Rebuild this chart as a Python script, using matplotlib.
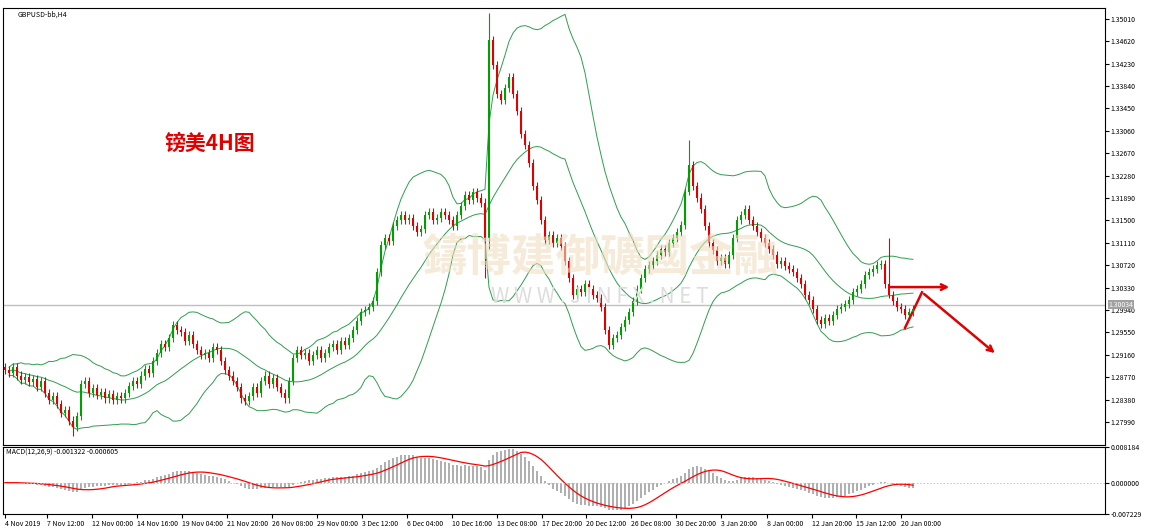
import matplotlib.pyplot as plt
import numpy as np
import pandas as pd

plt.rcParams['font.family'] = ['Noto Sans CJK SC', 'DejaVu Sans']

# H4 closes
closes = [
    1.2890, 1.2885, 1.2895, 1.2880, 1.2872, 1.2878, 1.2868, 1.2874, 1.2860, 1.2870,
    1.2850, 1.2837, 1.2845, 1.2830, 1.2815, 1.2820, 1.2800, 1.2790, 1.2810, 1.2865,
    1.2870, 1.2850, 1.2858, 1.2846, 1.2852, 1.2840, 1.2848, 1.2838, 1.2845, 1.2840,
    1.2850, 1.2862, 1.2870, 1.2865, 1.2880, 1.2892, 1.2885, 1.2905, 1.2920, 1.2935,
    1.2930, 1.2945, 1.2968, 1.2960, 1.2955, 1.2940, 1.2950, 1.2935, 1.2925, 1.2915,
    1.2920, 1.2910, 1.2930, 1.2925, 1.2905, 1.2890, 1.2880, 1.2870, 1.2860, 1.2840,
    1.2835, 1.2845, 1.2860, 1.2850, 1.2870, 1.2880, 1.2865, 1.2875, 1.2860, 1.2850,
    1.2840, 1.2870, 1.2910, 1.2925, 1.2915, 1.2920, 1.2905, 1.2915, 1.2925, 1.2910,
    1.2920, 1.2930, 1.2935, 1.2925, 1.2940, 1.2933, 1.2945, 1.2960, 1.2975, 1.2990,
    1.2994, 1.3000, 1.3010, 1.3060, 1.3107, 1.3120, 1.3115, 1.3140, 1.3150, 1.3160,
    1.3150, 1.3155, 1.3140, 1.3130, 1.3135, 1.3160, 1.3165, 1.3150, 1.3155, 1.3165,
    1.3160, 1.3150, 1.3140, 1.3160, 1.3175, 1.3194, 1.3185, 1.3200, 1.3190, 1.3180,
    1.3120, 1.3464, 1.3420, 1.3370, 1.3360, 1.3380, 1.3400, 1.3370, 1.3340, 1.3300,
    1.3282, 1.3250, 1.3210, 1.3186, 1.3150, 1.3116, 1.3125, 1.3110, 1.3120, 1.3105,
    1.3080, 1.3050, 1.3020, 1.3030, 1.3025, 1.3040, 1.3030, 1.3020, 1.3015, 1.3000,
    1.2960, 1.2933, 1.2945, 1.2950, 1.2965, 1.2977, 1.2990, 1.3010, 1.3030, 1.3050,
    1.3065, 1.3072, 1.3080, 1.3090, 1.3100, 1.3095, 1.3110, 1.3120, 1.3130, 1.3142,
    1.3200, 1.3247, 1.3210, 1.3190, 1.3170, 1.3140, 1.3110, 1.3099, 1.3080, 1.3085,
    1.3075, 1.3090, 1.3120, 1.3150, 1.3160, 1.3170, 1.3150, 1.3140, 1.3130, 1.3120,
    1.3110, 1.3100, 1.3090, 1.3075, 1.3080, 1.3070, 1.3065, 1.3060, 1.3050, 1.3040,
    1.3020, 1.3012, 1.2995, 1.2977, 1.2970, 1.2980, 1.2975, 1.2985, 1.2995, 1.3000,
    1.3005, 1.3012, 1.3025, 1.3030, 1.3040, 1.3055, 1.3060, 1.3065, 1.3072, 1.3075,
    1.3040, 1.3020, 1.3010, 1.3000, 1.2995, 1.2985, 1.2990, 1.2995,
]
first_open = 1.2895
# long wicks: bar index -> (high, low)
spikes = {120: (1.3190, 1.3050), 121: (1.3512, 1.3100), 171: (1.3290, 1.3195),
          221: (1.3120, 1.3015), 17: (1.2810, 1.2775)}

price_ticks = [1.35010, 1.34620, 1.34230, 1.33840, 1.33450, 1.33060, 1.32670, 1.32280,
               1.31890, 1.31500, 1.31110, 1.30720, 1.30330, 1.29940, 1.29550, 1.29160,
               1.28770, 1.28380, 1.27990]
time_labels = ["4 Nov 2019", "7 Nov 12:00", "12 Nov 00:00", "14 Nov 16:00", "19 Nov 04:00",
               "21 Nov 20:00", "26 Nov 08:00", "29 Nov 00:00", "3 Dec 12:00", "6 Dec 04:00",
               "10 Dec 16:00", "13 Dec 08:00", "17 Dec 20:00", "20 Dec 12:00", "26 Dec 08:00",
               "30 Dec 20:00", "3 Jan 20:00", "8 Jan 00:00", "12 Jan 20:00", "15 Jan 12:00",
               "20 Jan 00:00"]
time_label_bars = [0, 10.5, 21.75, 33, 44.25, 55.5, 66.75, 78, 89.25, 100.5, 111.75, 123,
                   134.25, 145.25, 156.5, 167.75, 179, 190.5, 201.75, 212.75, 224]
last_price = 1.30034

c = pd.Series(closes)
o = c.shift(1).fillna(first_open)
n = len(c)
x = np.arange(n)
hi = np.maximum(o, c) + 0.0007
lo = np.minimum(o, c) - 0.0007
for k, (h, l) in spikes.items():
    hi[k], lo[k] = h, l

mid = c.rolling(20, min_periods=1).mean()
sd = c.rolling(20, min_periods=1).std().fillna(0)
ema12 = c.ewm(span=12, adjust=False).mean()
ema26 = c.ewm(span=26, adjust=False).mean()
macd = ema12 - ema26
signal = macd.rolling(9, min_periods=1).mean()

fig = plt.figure(figsize=(11.7, 5.29), dpi=100)
ax = fig.add_axes([3 / 1170, 1 - 445 / 529, 1102 / 1170, 437 / 529])
ax2 = fig.add_axes([3 / 1170, 1 - 514 / 529, 1102 / 1170, 67 / 529], sharex=ax)

up = (c >= o).values
col = np.where(up, '#00a000', '#e00000')

ax.axhline(last_price, color='#c0c0c0', lw=1, zorder=1)
ax.vlines(x, lo, hi, colors=col, lw=0.8, zorder=2)
ax.bar(x, (c - o).abs().clip(lower=0.00015), bottom=np.minimum(o, c), width=0.6,
       color=col, zorder=3)
for band in (mid, mid + 2 * sd, mid - 2 * sd):
    ax.plot(x[1:], band[1:], color='#2e9e4e', lw=0.7, zorder=1)

# watermark
fig.text(600 / 1170, 1 - 258 / 529, "鑄博建御礦國金融", fontsize=32, color='#f0dcc0',
         alpha=0.6, ha='center', va='center', fontweight='bold', zorder=1)
fig.text(600 / 1170, 1 - 297 / 529, "W W W . J I N F X . N E T", fontsize=15,
         color='#dddddd', ha='center', va='center', zorder=1)

fig.text(165 / 1170, 1 - 143 / 529, "镑美4H图", fontsize=15, color='#e00000',
         fontweight='bold', ha='left', va='center')
ax.annotate("", xy=(236.75, 1.3034), xytext=(220.75, 1.3034),
            arrowprops=dict(arrowstyle='->', color='#e00000', lw=1.8))
ax.plot([225, 229.25], [1.2963, 1.3025], color='#e00000', lw=1.8)
ax.annotate("", xy=(248, 1.2916), xytext=(229.25, 1.3025),
            arrowprops=dict(arrowstyle='->', color='#e00000', lw=1.8))

ax.set_xlim(-0.5, 275)
ax.set_ylim(1.2759, 1.3520)
ax.yaxis.tick_right()
ax.set_yticks(price_ticks)
ax.set_yticklabels([f"{p:.5f}" for p in price_ticks])
ax.tick_params(axis='y', labelsize=5, length=3, pad=1)
ax.tick_params(axis='x', bottom=False, labelbottom=False)
ax.text(0.013, 0.995, "GBPUSD-bb,H4", transform=ax.transAxes, fontsize=5, va='top')
ax.text(1.003, (last_price - 1.2759) / (1.3520 - 1.2759), f"{last_price:.5f}",
        transform=ax.transAxes, fontsize=5, color='white', va='center',
        bbox=dict(boxstyle='square,pad=0.1', fc='#a0a0a0', ec='none'))

ax2.bar(x, macd, width=0.35, color='#b0b0b0')
ax2.plot(x, signal, color='#ff0000', lw=0.9)
ax2.axhline(0, color='#c0c0c0', lw=0.6, ls=(0, (2, 2)))
ax2.set_ylim(-0.007229, 0.008184)
ax2.yaxis.tick_right()
ax2.set_yticks([0.008184, 0.0, -0.007229])
ax2.set_yticklabels(["0.008184", "0.000000", "-0.007229"])
ax2.tick_params(axis='y', labelsize=5, length=3, pad=1)
ax2.set_xticks(time_label_bars)
ax2.set_xticklabels(time_labels, ha='left')
ax2.tick_params(axis='x', labelsize=5, length=3, pad=1)
ax2.text(0.003, 0.97, f"MACD(12,26,9) {macd.iloc[-1]:.6f} {signal.iloc[-1]:.6f}",
         transform=ax2.transAxes, fontsize=5, va='top')

fig.savefig("out.png", dpi=100, facecolor='white')
